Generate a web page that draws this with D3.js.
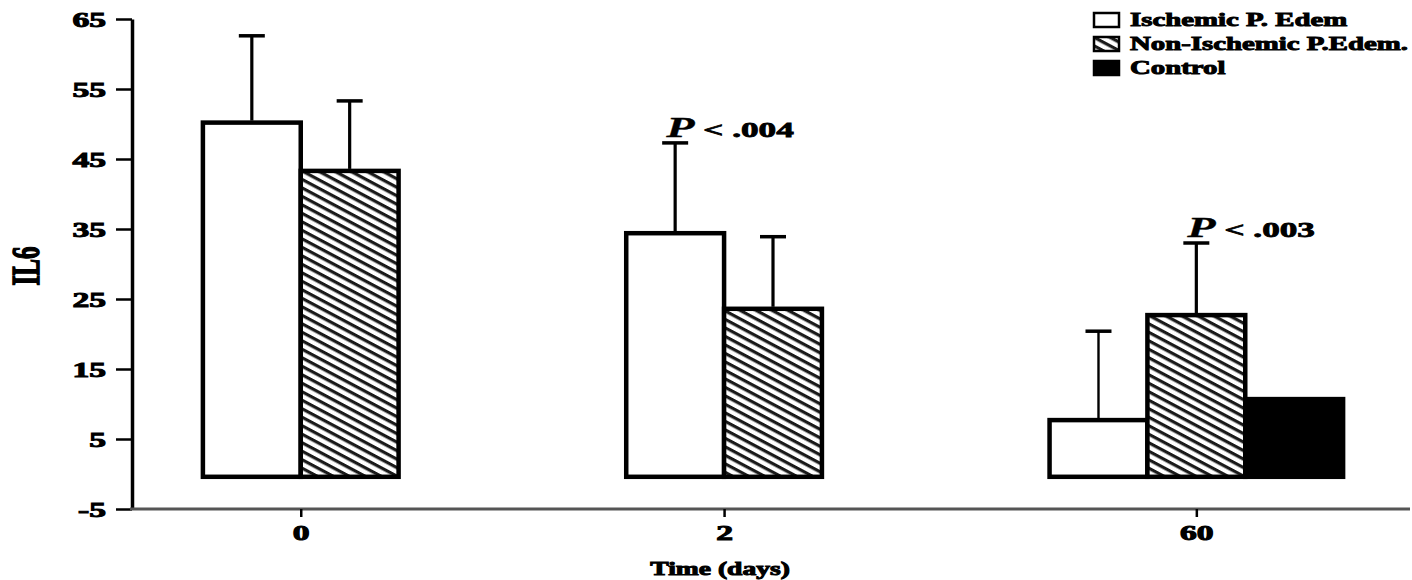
<!DOCTYPE html>
<html>
<head>
<meta charset="utf-8">
<script src="https://cdn.jsdelivr.net/npm/d3@7"></script>
<style>
  html, body { margin: 0; padding: 0; background: #fff; }
  svg { display: block; }
  text { font-family: "Liberation Serif", "Times New Roman", serif; font-weight: bold; fill: #000; }
</style>
</head>
<body>
<svg id="chart" width="1412" height="580"></svg>
<script>
// Time points (days) and series
const timepoints = ["0", "2", "60"];
const seriesNames = ["Ischemic P. Edem", "Non-Ischemic P.Edem.", "Control"];

// IL6 means and SD per time point (null = not measured)
const ischemicMean    = [50.2, 34.4, 7.7];
const ischemicSD      = [12.4, 12.9, 12.7];
const nonIschemicMean = [43.3, 23.6, 22.7];
const nonIschemicSD   = [10.0, 10.3, 10.3];
const controlMean     = [null, null, 10.7];
const controlSD       = [null, null, null];

// Significance labels and the series they sit above
const pLabels = [null, "< .004", "< .003"];
const pSeries = [null, 0, 1];

const yTicks = [-5, 5, 15, 25, 35, 45, 55, 65];

const means = [ischemicMean, nonIschemicMean, controlMean];
const sds = [ischemicSD, nonIschemicSD, controlSD];

const svg = d3.select("#chart");
const SX = 1.6; // wide lettering

const y = d3.scaleLinear().domain([-5, 65]).range([509, 19]);

const x0 = d3.scaleBand()
  .domain(timepoints)
  .range([138, 1408])
  .paddingInner(0.3066)
  .paddingOuter(0.1533);

const x1 = d3.scaleBand()
  .domain(d3.range(seriesNames.length))
  .range([0, x0.bandwidth()]);

// Hatch pattern for non-ischemic bars
const defs = svg.append("defs");
const pat = defs.append("pattern")
  .attr("id", "hatch")
  .attr("patternUnits", "userSpaceOnUse")
  .attr("width", 7.5).attr("height", 7.5)
  .attr("patternTransform", "rotate(28)");
pat.append("rect").attr("width", 7.5).attr("height", 7.5).attr("fill", "#fff");
pat.append("rect").attr("width", 7.5).attr("height", 3.2).attr("fill", "#1a1a1a");

const fills = ["#fff", "url(#hatch)", "#000"];

// Build bar records
const bars = [];
timepoints.forEach((t, gi) => {
  means.forEach((arr, si) => {
    if (arr[gi] != null) {
      bars.push({ t, gi, si, mean: arr[gi], sd: sds[si][gi] });
    }
  });
});

// Tick position: middle of the bars present in each group
const tickPos = timepoints.map((t, gi) => {
  const present = bars.filter(b => b.gi === gi);
  const left = x0(t) + x1(present[0].si);
  const right = x0(t) + x1(present[present.length - 1].si) + x1.bandwidth();
  return (left + right) / 2;
});
const xTickScale = d3.scaleOrdinal().domain(timepoints).range(tickPos);

// Bars
svg.append("g").selectAll("rect")
  .data(bars)
  .join("rect")
  .attr("x", d => x0(d.t) + x1(d.si))
  .attr("y", d => y(d.mean))
  .attr("width", x1.bandwidth())
  .attr("height", d => y(-0.4) - y(d.mean))
  .attr("fill", d => fills[d.si])
  .attr("stroke", "#000")
  .attr("stroke-width", 4.5);

// Error bars (upper only)
const eb = svg.append("g").attr("stroke", "#000");
bars.filter(d => d.sd != null).forEach(d => {
  const cx = x0(d.t) + x1(d.si) + x1.bandwidth() / 2;
  eb.append("line")
    .attr("x1", cx).attr("x2", cx)
    .attr("y1", y(d.mean) - 2).attr("y2", y(d.mean + d.sd))
    .attr("stroke-width", d.gi === 2 && d.si === 0 ? 2.4 : 3.2);
  eb.append("line")
    .attr("x1", cx - 13).attr("x2", cx + 13)
    .attr("y1", y(d.mean + d.sd)).attr("y2", y(d.mean + d.sd))
    .attr("stroke-width", 3.5);
});

// Y axis
const yAxis = svg.append("g")
  .attr("transform", "translate(132,0)")
  .call(d3.axisLeft(y).tickValues(yTicks).tickSize(16).tickSizeOuter(0).tickFormat(d3.format("d")));
yAxis.select(".domain").attr("stroke", "#000").attr("stroke-width", 3.5);
yAxis.selectAll(".tick line").attr("stroke", "#000").attr("stroke-width", 2.5);
yAxis.selectAll(".tick text").remove();
yAxis.selectAll(".tick").append("text")
  .attr("transform", `translate(-26,7) scale(${SX},1)`)
  .attr("text-anchor", "end")
  .attr("font-size", 21)
  .attr("stroke", "#000").attr("stroke-width", 1)
  .text(d => d);

// X axis
svg.append("line")
  .attr("x1", 130).attr("x2", 1410)
  .attr("y1", y(-5)).attr("y2", y(-5))
  .attr("stroke", "#555").attr("stroke-width", 3);
const xAxis = svg.append("g")
  .attr("transform", `translate(0,${y(-5)})`)
  .call(d3.axisBottom(xTickScale).tickSize(8).tickSizeOuter(0));
xAxis.select(".domain").remove();
xAxis.selectAll(".tick line").attr("stroke", "#000").attr("stroke-width", 2.5);
xAxis.selectAll(".tick text").remove();
xAxis.selectAll(".tick").append("text")
  .attr("transform", `translate(0,31) scale(${SX},1)`)
  .attr("text-anchor", "middle")
  .attr("font-size", 21)
  .attr("stroke", "#000").attr("stroke-width", 1)
  .text(d => d);

// Axis titles
svg.append("text")
  .attr("transform", `translate(${tickPos[1] - 4},575) scale(1.45,1)`)
  .attr("text-anchor", "middle")
  .attr("font-size", 19)
  .attr("stroke", "#000").attr("stroke-width", 1)
  .text("Time (days)");

svg.append("text")
  .attr("transform", `translate(39,266) scale(${SX},1) rotate(-90)`)
  .attr("text-anchor", "middle")
  .attr("font-size", 25)
  .attr("stroke", "#000").attr("stroke-width", 1)
  .text("IL6");

// Significance labels
timepoints.forEach((t, gi) => {
  if (!pLabels[gi]) return;
  const si = pSeries[gi];
  const cx = x0(t) + x1(si) + x1.bandwidth() / 2;
  const top = y(means[si][gi] + sds[si][gi]);
  const txt = svg.append("text")
    .attr("transform", `translate(${cx - 9},${top - 6}) scale(${SX},1)`)
    .attr("stroke", "#000").attr("stroke-width", 0.8);
  txt.append("tspan")
    .attr("font-style", "italic").attr("font-size", 29).attr("stroke-width", 0.3)
    .text("P");
  txt.append("tspan")
    .attr("font-size", 22)
    .text(" " + pLabels[gi]);
});

// Legend
const legend = svg.append("g").attr("transform", "translate(1094,0)");
const rowY = [20, 44, 68];
seriesNames.forEach((name, i) => {
  const g = legend.append("g").attr("transform", `translate(0,${rowY[i]})`);
  g.append("rect")
    .attr("x", 0).attr("y", -7)
    .attr("width", 25).attr("height", 14)
    .attr("fill", fills[i])
    .attr("stroke", "#000").attr("stroke-width", 2.5);
  g.append("text")
    .attr("transform", `translate(36,6) scale(${SX},1)`)
    .attr("font-size", 18)
    .attr("stroke", "#000").attr("stroke-width", 0.9)
    .text(name);
});
</script>
</body>
</html>
